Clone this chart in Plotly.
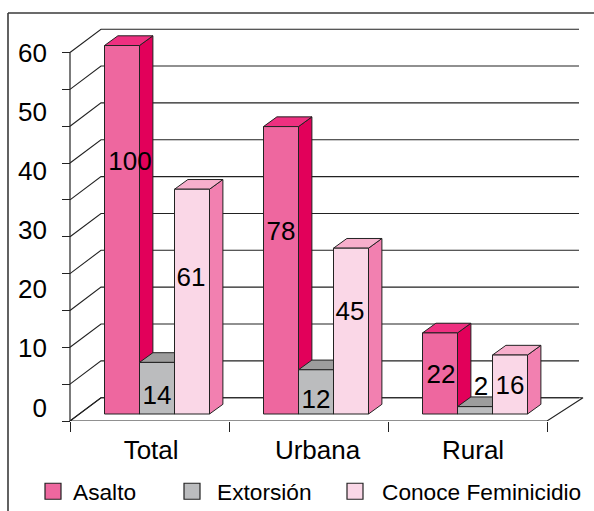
import plotly.graph_objects as go

# ---- data ----
categories = ["Total", "Urbana", "Rural"]
series_names = ["Asalto", "Extorsión", "Conoce Feminicidio"]
asalto = [100, 78, 22]
extorsion = [14, 12, 2]
feminicidio = [61, 45, 16]
scale_ticks = [0, 10, 20, 30, 40, 50, 60]
wall_levels = [0, 10, 20, 30, 40, 50, 60, 70, 80, 90, 100]

series_values = [asalto, extorsion, feminicidio]

# ---- styles / layout ----
W, H = 594, 511
FONT = "Liberation Sans"
front_colors = ["#EE679F", "#BBBCBE", "#FAD7E7"]
side_colors = ["#E2005A", "#8E8E8E", "#F280B0"]
top_colors = ["#EE3080", "#9D9D9D", "#F7AFCC"]
INK = "#222222"

PX_PER_CAT = 159.0
PX_PER_UNIT = 3.685
PLOT_L, PLOT_R, PLOT_T, PLOT_B = 20, 590, 25, 421
AXIS_L = 70


def cat_units(px):
    return px / PX_PER_CAT


def val_units(px):
    return px / PX_PER_UNIT


def x_of(px):
    return (px - AXIS_L) / PX_PER_CAT - 0.5


x_range = [x_of(PLOT_L), x_of(PLOT_R)]
y_range = [0, val_units(PLOT_B - PLOT_T)]
label_scale = 5.917
label_zero_px = 407.5
y3_range = [-(PLOT_B - label_zero_px) / label_scale, (label_zero_px - PLOT_T) / label_scale]

BAR_W = cat_units(35)
GROUP_SHIFT = cat_units(7.5)
BASE = val_units(7)
BAR_DX, BAR_DY = cat_units(13.4), val_units(9.7)
WALL_DX, WALL_DY = cat_units(31), val_units(23.3)
WALL_END = x_of(579)
FLOOR_END = x_of(583)

# vertical / horizontal nudges of the data labels, in px relative to the bar
label_dx_px = [[8, 0, -1], [0, 0, -1], [1, 6, 0]]
label_center_units = [[69.8, 6.5, 38.5], [50.8, 5.2, 29.3], [12.2, 8.7, 9.2]]

fig = go.Figure()

# floor
fig.add_trace(go.Scatter(
    x=[-0.5, 2.5, FLOOR_END, -0.5 + WALL_DX, -0.5],
    y=[0, 0, WALL_DY, WALL_DY, 0],
    mode="lines", fill="toself", fillcolor="white",
    line=dict(color=INK, width=1.1), hoverinfo="skip", showlegend=False))

# wall gridlines
gx, gy = [], []
for v in wall_levels:
    gx += [-0.5, -0.5 + WALL_DX, WALL_END, None]
    gy += [v, v + WALL_DY, v + WALL_DY, None]
fig.add_trace(go.Scatter(x=gx, y=gy, mode="lines", line=dict(color=INK, width=1.1),
                         hoverinfo="skip", showlegend=False))
# left axis line
fig.add_trace(go.Scatter(x=[-0.5, -0.5], y=[wall_levels[0], wall_levels[-1]], mode="lines",
                         line=dict(color=INK, width=1.2), hoverinfo="skip", showlegend=False))


def bar_x(group, s):
    return group + GROUP_SHIFT + (s - 1) * BAR_W


# side and top faces, painted left to right
for g in range(len(categories)):
    for s, vals in enumerate(series_values):
        c = bar_x(g, s)
        xl, xr = c - BAR_W / 2, c + BAR_W / 2
        top = BASE + vals[g]
        fig.add_trace(go.Scatter(
            x=[xr, xr + BAR_DX, xr + BAR_DX, xr, xr],
            y=[BASE, BASE + BAR_DY, top + BAR_DY, top, BASE],
            mode="lines", fill="toself", fillcolor=side_colors[s],
            line=dict(color=INK, width=1), hoverinfo="skip", showlegend=False))
        fig.add_trace(go.Scatter(
            x=[xl, xr, xr + BAR_DX, xl + BAR_DX, xl],
            y=[top, top, top + BAR_DY, top + BAR_DY, top],
            mode="lines", fill="toself", fillcolor=top_colors[s],
            line=dict(color=INK, width=1), hoverinfo="skip", showlegend=False))

# front faces
for s, vals in enumerate(series_values):
    fig.add_trace(go.Bar(
        x=[bar_x(g, s) for g in range(len(categories))],
        y=vals, base=BASE, width=BAR_W, name=series_names[s],
        marker=dict(color=front_colors[s], line=dict(color=INK, width=1)),
        yaxis="y2", showlegend=False))

# data labels
for s, vals in enumerate(series_values):
    fig.add_trace(go.Scatter(
        x=[bar_x(g, s) + cat_units(label_dx_px[g][s]) for g in range(len(categories))],
        y=[label_center_units[g][s] for g in range(len(categories))],
        text=[str(v) for v in vals], mode="text", textposition="middle center",
        textfont=dict(family=FONT, size=26, color="black"),
        yaxis="y2", hoverinfo="skip", showlegend=False, cliponaxis=False))

# carrier for the printed scale
fig.add_trace(go.Scatter(x=[None], y=[None], yaxis="y3", mode="markers", showlegend=False, hoverinfo="skip"))

# legends
legend_x_px = [33, 167, 328]
legend_item_w = [30, 40, 44]
legend_names = ["legend", "legend2", "legend3"]
for s, name in enumerate(series_names):
    fig.add_trace(go.Scatter(
        x=[None], y=[None], mode="markers", name=name, legend=legend_names[s],
        marker=dict(symbol="square", size=16, color=front_colors[s], line=dict(color=INK, width=1.2))))

legend_common = dict(orientation="h", yanchor="bottom", y=-2 / H, xanchor="left",
                     bgcolor="rgba(0,0,0,0)", itemsizing="trace",
                     font=dict(family=FONT, size=22.7, color="black"))

fig.update_layout(
    width=W, height=H, margin=dict(l=0, r=0, t=0, b=0, pad=0, autoexpand=False), autosize=False,
    paper_bgcolor="white", plot_bgcolor="rgba(0,0,0,0)", barmode="overlay",
    font=dict(family=FONT, color="black"),
    xaxis=dict(domain=[PLOT_L / W, PLOT_R / W], range=x_range, showgrid=False, zeroline=False, showline=False,
               tickmode="array", tickvals=[0.01, 1.057, 2.035], ticktext=categories, ticks="", tickangle=0,
               ticklabelstandoff=11, tickfont=dict(family=FONT, size=26, color="black"),
               minor=dict(tickmode="array", tickvals=[-0.5, 0.5, 1.5, 2.5], ticks="outside",
                          ticklen=10, tickwidth=1.2, tickcolor=INK, showgrid=False),
               anchor="y"),
    yaxis=dict(domain=[(H - PLOT_B) / H, (H - PLOT_T) / H], range=y_range, anchor="free", position=AXIS_L / W,
               showgrid=False, zeroline=False, showline=False, tickmode="array", tickvals=wall_levels,
               ticks="outside", ticklen=8, tickwidth=1.2, tickcolor=INK, showticklabels=False),
    yaxis2=dict(overlaying="y", range=y_range, visible=False, anchor="x"),
    yaxis3=dict(overlaying="y", range=y3_range, anchor="free", position=47 / W, showgrid=False, zeroline=False,
                showline=False, tickmode="array", tickvals=scale_ticks, ticks="",
                tickfont=dict(family=FONT, size=26, color="black")),
    legend=dict(x=legend_x_px[0] / W, itemwidth=legend_item_w[0], **legend_common),
    legend2=dict(x=legend_x_px[1] / W, itemwidth=legend_item_w[1], **legend_common),
    legend3=dict(x=legend_x_px[2] / W, itemwidth=legend_item_w[2], **legend_common),
    shapes=[
        dict(type="line", xref="paper", yref="paper", x0=8 / W, x1=8 / W, y0=0, y1=(H - 13) / H,
             line=dict(color="#3a3a3a", width=1.6)),
        dict(type="line", xref="paper", yref="paper", x0=8 / W, x1=1, y0=(H - 13) / H, y1=(H - 13) / H,
             line=dict(color="#3a3a3a", width=1.6)),
    ],
)

fig.write_html("out.html", config=dict(displayModeBar=False),
               post_script="document.body.style.margin='0';document.documentElement.style.overflow='hidden';")
